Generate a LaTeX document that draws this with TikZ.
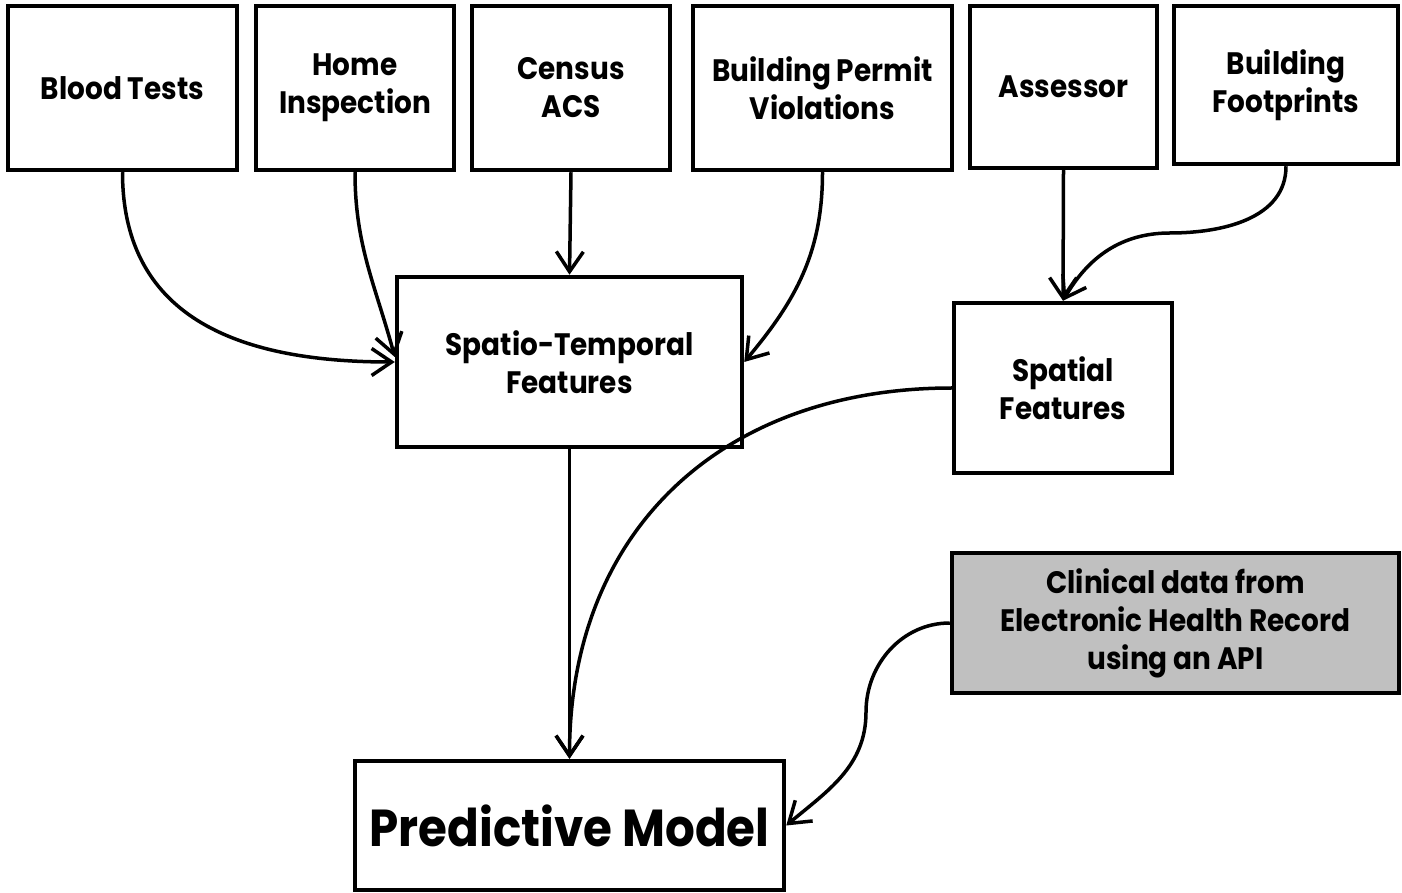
\documentclass[tikz,border=0pt]{standalone}
\usepackage{fontspec}
\setmainfont{Poppins}[FakeStretch=0.9]
\usetikzlibrary{arrows.meta}
\begin{document}
\begin{tikzpicture}[x=1pt,y=1pt,
  box/.style={draw=black, line width=4.5pt, fill=white, align=center, inner sep=0pt,
    font=\fontsize{31}{38}\selectfont\bfseries},
  bigbox/.style={box, font=\fontsize{52}{60}\selectfont\bfseries},
  link/.style={line width=3.5pt, -{Straight Barb[length=20pt,width=27pt]}}]
\useasboundingbox (0,0) rectangle (1402,892);
% data sources
\node[box, minimum width=229pt, minimum height=164pt] (bt)  at (122.5,804) {Blood Tests};
\node[box, minimum width=198pt, minimum height=164pt] (hi)  at (355,804)   {Home\\Inspection};
\node[box, minimum width=198pt, minimum height=164pt] (ca)  at (571,804)   {Census\\ACS};
\node[box, minimum width=259pt, minimum height=164pt] (bpv) at (822.5,804) {Building Permit\\Violations};
\node[box, minimum width=187pt, minimum height=162pt] (as)  at (1063.5,805) {Assessor};
\node[box, minimum width=224pt, minimum height=158pt] (bf)  at (1286,807)  {Building\\Footprints};
% feature sets
\node[box, minimum width=345pt, minimum height=170pt] (st)  at (569.5,530) {Spatio-Temporal\\Features};
\node[box, minimum width=218pt, minimum height=170pt] (sp)  at (1063,504)  {Spatial\\Features};
% clinical data and model
\node[box, fill={rgb,255:red,192;green,192;blue,192}, minimum width=447pt, minimum height=140pt] (cl) at (1175.5,269)
  {Clinical data from\\Electronic Health Record\\using an API};
\node[bigbox, minimum width=429pt, minimum height=129pt] (pm) at (569.5,66.5) {Predictive Model};
% bend points
\coordinate (bfbend) at (1170,659);
\coordinate (clbend) at (866,180);
% connectors
\draw[link] (bt.south) to[out=-90,in=180,looseness=1.15] (st.west);
\draw[link] (hi.south) to[out=-90,in=105] ([yshift=5pt]st.west);
\draw[link] (ca.south) -- (st.north);
\draw[link] (bpv.south) to[out=-90,in=50] (st.east);
\draw[link] (as.south) -- (sp.north);
\draw[link] (bf.south) to[out=-90,in=0] (bfbend) to[out=180,in=60] (sp.north);
\draw[link] (st.south) -- (pm.north);
\draw[link] (sp.west) to[out=180,in=90,looseness=1.1] (pm.north);
\draw[link] (cl.west) to[out=180,in=90] (clbend) to[out=-90,in=40] (pm.east);
\end{tikzpicture}
\end{document}
